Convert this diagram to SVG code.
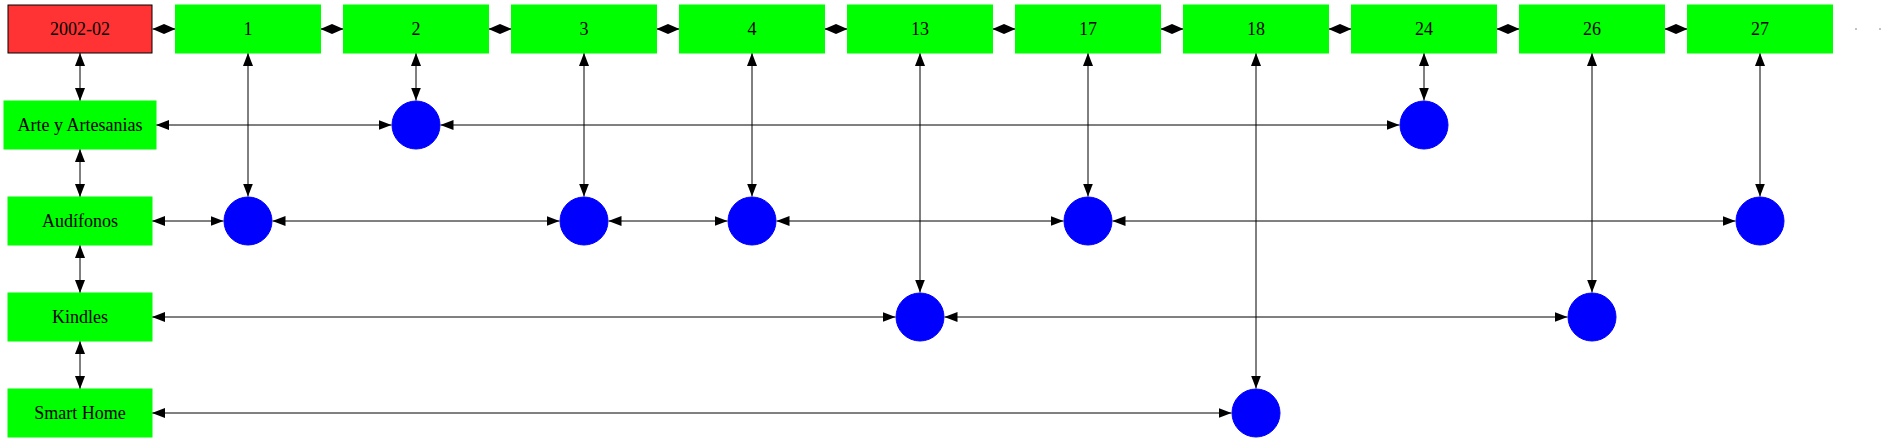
<svg xmlns="http://www.w3.org/2000/svg" width="1885" height="443" viewBox="0 0 1885 443">
<style>
.box{fill:#00ff00;stroke:#00ff00;stroke-width:1}
.date{fill:#ff3333;stroke:#000;stroke-width:1}
.dot{fill:#0000ff;stroke:#0000ff;stroke-width:1}
.lbl{font-family:"Liberation Serif","Times New Roman",serif;font-size:18px;text-anchor:middle;fill:#000}
.e{stroke:#000;stroke-width:1;fill:none;marker-start:url(#arr);marker-end:url(#arr)}
.t{stroke:#000;stroke-width:1;fill:none;marker-start:url(#arrs);marker-end:url(#arrs)}
</style>
<defs>
<marker id="arr" viewBox="0 0 13 10" refX="13" refY="5" markerWidth="13" markerHeight="10" markerUnits="userSpaceOnUse" orient="auto-start-reverse">
<path d="M0,0 L13,5 L0,10 Z" fill="#000"/>
</marker>
<marker id="arrs" viewBox="0 0 11.5 10" refX="11.5" refY="5" markerWidth="11.5" markerHeight="10" markerUnits="userSpaceOnUse" orient="auto-start-reverse">
<path d="M0,0 L11.5,5 L0,10 Z" fill="#000"/>
</marker>
</defs>
<rect width="1885" height="443" fill="#fff"/>
<g id="connectors">
<path class="t" d="M152.5,29 H175.5"/>
<path class="t" d="M320.5,29 H343.5"/>
<path class="t" d="M488.5,29 H511.5"/>
<path class="t" d="M656.5,29 H679.5"/>
<path class="t" d="M824.5,29 H847.5"/>
<path class="t" d="M992.5,29 H1015.5"/>
<path class="t" d="M1160.5,29 H1183.5"/>
<path class="t" d="M1328.5,29 H1351.5"/>
<path class="t" d="M1496.5,29 H1519.5"/>
<path class="t" d="M1664.5,29 H1687.5"/>
<path class="e" d="M80,53 V101"/>
<path class="e" d="M80,149 V197"/>
<path class="e" d="M80,245 V293"/>
<path class="e" d="M80,341 V389"/>
<path class="e" d="M248,53 V196.5"/>
<path class="e" d="M416,53 V100.5"/>
<path class="e" d="M584,53 V196.5"/>
<path class="e" d="M752,53 V196.5"/>
<path class="e" d="M920,53 V292.5"/>
<path class="e" d="M1088,53 V196.5"/>
<path class="e" d="M1256,53 V388.5"/>
<path class="e" d="M1424,53 V100.5"/>
<path class="e" d="M1592,53 V292.5"/>
<path class="e" d="M1760,53 V196.5"/>
<path class="e" d="M156,125 H391.5"/>
<path class="e" d="M440.5,125 H1399.5"/>
<path class="e" d="M152,221 H223.5"/>
<path class="e" d="M272.5,221 H559.5"/>
<path class="e" d="M608.5,221 H727.5"/>
<path class="e" d="M776.5,221 H1063.5"/>
<path class="e" d="M1112.5,221 H1735.5"/>
<path class="e" d="M152,317 H895.5"/>
<path class="e" d="M944.5,317 H1567.5"/>
<path class="e" d="M152,413 H1231.5"/>
<rect x="1855" y="28.5" width="2" height="1" fill="#888"/>
<rect x="1879" y="28.5" width="2" height="1" fill="#888"/>
</g>
<g id="n2002-02"><rect class="date" x="8" y="5" width="144" height="48"/><text class="lbl" x="80" y="34.5">2002-02</text></g>
<g id="n1"><rect class="box" x="175.5" y="5" width="145" height="48"/><text class="lbl" x="248" y="34.5">1</text></g>
<g id="n2"><rect class="box" x="343.5" y="5" width="145" height="48"/><text class="lbl" x="416" y="34.5">2</text></g>
<g id="n3"><rect class="box" x="511.5" y="5" width="145" height="48"/><text class="lbl" x="584" y="34.5">3</text></g>
<g id="n4"><rect class="box" x="679.5" y="5" width="145" height="48"/><text class="lbl" x="752" y="34.5">4</text></g>
<g id="n13"><rect class="box" x="847.5" y="5" width="145" height="48"/><text class="lbl" x="920" y="34.5">13</text></g>
<g id="n17"><rect class="box" x="1015.5" y="5" width="145" height="48"/><text class="lbl" x="1088" y="34.5">17</text></g>
<g id="n18"><rect class="box" x="1183.5" y="5" width="145" height="48"/><text class="lbl" x="1256" y="34.5">18</text></g>
<g id="n24"><rect class="box" x="1351.5" y="5" width="145" height="48"/><text class="lbl" x="1424" y="34.5">24</text></g>
<g id="n26"><rect class="box" x="1519.5" y="5" width="145" height="48"/><text class="lbl" x="1592" y="34.5">26</text></g>
<g id="n27"><rect class="box" x="1687.5" y="5" width="145" height="48"/><text class="lbl" x="1760" y="34.5">27</text></g>
<g id="arte"><rect class="box" x="4" y="101" width="152" height="48"/><text class="lbl" x="80" y="130.5">Arte y Artesanias</text></g>
<g id="audifonos"><rect class="box" x="8" y="197" width="144" height="48"/><text class="lbl" x="80" y="226.5">Audífonos</text></g>
<g id="kindles"><rect class="box" x="8" y="293" width="144" height="48"/><text class="lbl" x="80" y="322.5">Kindles</text></g>
<g id="smarthome"><rect class="box" x="8" y="389" width="144" height="48"/><text class="lbl" x="80" y="418.5">Smart Home</text></g>
<g id="c-arte-2"><circle class="dot" cx="416" cy="125" r="24"/></g>
<g id="c-arte-24"><circle class="dot" cx="1424" cy="125" r="24"/></g>
<g id="c-aud-1"><circle class="dot" cx="248" cy="221" r="24"/></g>
<g id="c-aud-3"><circle class="dot" cx="584" cy="221" r="24"/></g>
<g id="c-aud-4"><circle class="dot" cx="752" cy="221" r="24"/></g>
<g id="c-aud-17"><circle class="dot" cx="1088" cy="221" r="24"/></g>
<g id="c-aud-27"><circle class="dot" cx="1760" cy="221" r="24"/></g>
<g id="c-kin-13"><circle class="dot" cx="920" cy="317" r="24"/></g>
<g id="c-kin-26"><circle class="dot" cx="1592" cy="317" r="24"/></g>
<g id="c-sh-18"><circle class="dot" cx="1256" cy="413" r="24"/></g>
</svg>
